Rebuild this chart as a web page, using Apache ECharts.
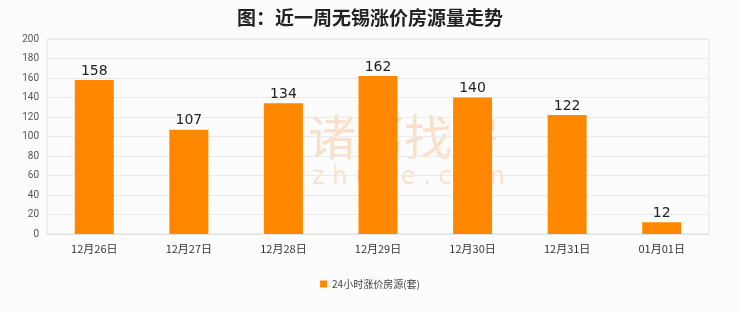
<!DOCTYPE html>
<html><head><meta charset="utf-8">
<script src="https://cdn.jsdelivr.net/npm/echarts@6/dist/echarts.min.js"></script>
<style>html,body{margin:0;padding:0;background:#fcfcfc;}#c{width:740px;height:312px;}</style>
</head><body><div id="c"></div>
<script>
const categories = ['12月26日','12月27日','12月28日','12月29日','12月30日','12月31日','01月01日'];
const values = [158, 107, 134, 162, 140, 122, 12];
const seriesName = '24小时涨价房源(套)';
const titleText = '图：近一周无锡涨价房源量走势';
const yTicks = {min: 0, max: 200, interval: 20};

const chart = echarts.init(document.getElementById('c'), null, {renderer: 'canvas'});
chart.setOption({
  backgroundColor: '#fcfcfc',
  animation: false,
  title: {text: titleText, left: 'center', top: 3, textStyle: {fontSize: 19, fontWeight: 'bold', color: '#222', fontFamily: 'Noto Sans CJK SC'}},
  graphic: [
    {type: 'text', z: -1, left: 308, top: 113, style: {text: '诸葛找房', font: '48px "Noto Sans CJK SC"', fill: 'rgba(244,190,140,0.45)'}},
    {type: 'text', z: -1, left: 312, top: 166, style: {text: 'z h u g e . c o m', font: '24px "DejaVu Sans"', fill: 'rgba(244,190,140,0.45)'}}
  ],
  grid: {left: 47, right: 31, top: 39, height: 195, show: true, borderColor: '#e2e2e2', borderWidth: 1, backgroundColor: 'transparent'},
  legend: {bottom: 18, left: 'center', itemWidth: 7, itemHeight: 7, icon: 'rect', textStyle: {fontSize: 10, color: '#444', fontFamily: 'Noto Sans CJK SC'}, data: [seriesName]},
  xAxis: {type: 'category', data: categories,
    axisLine: {lineStyle: {color: '#e2e2e2'}}, axisTick: {show: false},
    axisLabel: {fontSize: 11, color: '#333', margin: 9, fontFamily: 'Noto Sans CJK SC'}},
  yAxis: {type: 'value', min: yTicks.min, max: yTicks.max, interval: yTicks.interval,
    axisLine: {show: false}, axisTick: {show: false},
    splitLine: {lineStyle: {color: '#ebebeb'}},
    axisLabel: {fontSize: 10, color: '#555', margin: 8, fontFamily: 'Roboto'}},
  series: [{name: seriesName, type: 'bar', data: values, barWidth: 39, z: 3,
    itemStyle: {color: '#ff8800'},
    label: {show: true, position: 'top', distance: 2, fontSize: 14, color: '#222', fontFamily: 'DejaVu Sans'}}]
});
</script></body></html>
